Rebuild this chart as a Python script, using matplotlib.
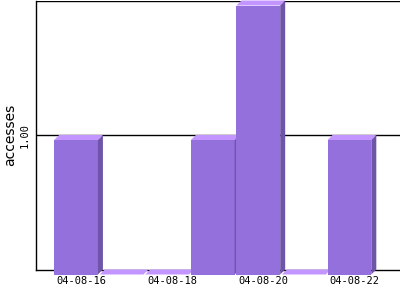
import matplotlib
matplotlib.use("Agg")
import matplotlib.pyplot as plt
from matplotlib.patches import Polygon

# daily access counts
days = ["04-08-16", "04-08-17", "04-08-18", "04-08-19", "04-08-20", "04-08-21", "04-08-22"]
accesses = [1, 0, 0, 1, 2, 0, 1]

front_col = "#9370db"
top_col = "#c396ff"
side_col = "#6f55a8"

fig = plt.figure(figsize=(4, 3), dpi=100)
ax = fig.add_axes([35.5 / 400, 30.5 / 300, 364.5 / 400, 269 / 300])
ax.set_xlim(-1, len(days))
ax.set_ylim(0, 2)

# depth of the fake 3d extrusion, in pixels -> data units
ppx = 364.5 / (len(days) + 1)
ppy = 269 / 2.0
dx = 5 / ppx
dy = 5 / ppy
w = 0.96

for i, v in enumerate(accesses):
    x0 = i - w / 2 - dx
    x1 = i + w / 2 - dx
    yb = -dy
    yt = v - dy
    # front face
    ax.add_patch(Polygon([(x0, yb), (x1, yb), (x1, yt), (x0, yt)],
                         closed=True, facecolor=front_col, edgecolor="none",
                         clip_on=False, zorder=3))
    # top face
    ax.add_patch(Polygon([(x0, yt), (x1, yt), (x1 + dx, v), (x0 + dx, v)],
                         closed=True, facecolor=top_col, edgecolor="none",
                         clip_on=False, zorder=3))
    # side face
    ax.add_patch(Polygon([(x1, yb), (x1 + dx, 0), (x1 + dx, v), (x1, yt)],
                         closed=True, facecolor=side_col, edgecolor="none",
                         clip_on=False, zorder=3))

for yv in [1, 2]:
    ax.axhline(yv, color="black", lw=1, zorder=1)

ax.spines["right"].set_visible(False)
ax.spines["top"].set_visible(False)
for s in ["left", "bottom"]:
    ax.spines[s].set_linewidth(1)
    ax.spines[s].set_zorder(2)

ax.set_xticks(range(0, len(days), 2))
ax.set_xticklabels(days[::2], family="DejaVu Sans Mono", fontsize=7.5)
ax.set_yticks([1])
ax.set_yticklabels(["1.00"], family="DejaVu Sans Mono", fontsize=7.5,
                   rotation=90, va="center")
ax.tick_params(axis="x", length=0, pad=5)
ax.tick_params(axis="y", length=0, pad=4)
ax.set_ylabel("accesses", fontsize=10, labelpad=2)

fig.savefig("out.png", dpi=100)
